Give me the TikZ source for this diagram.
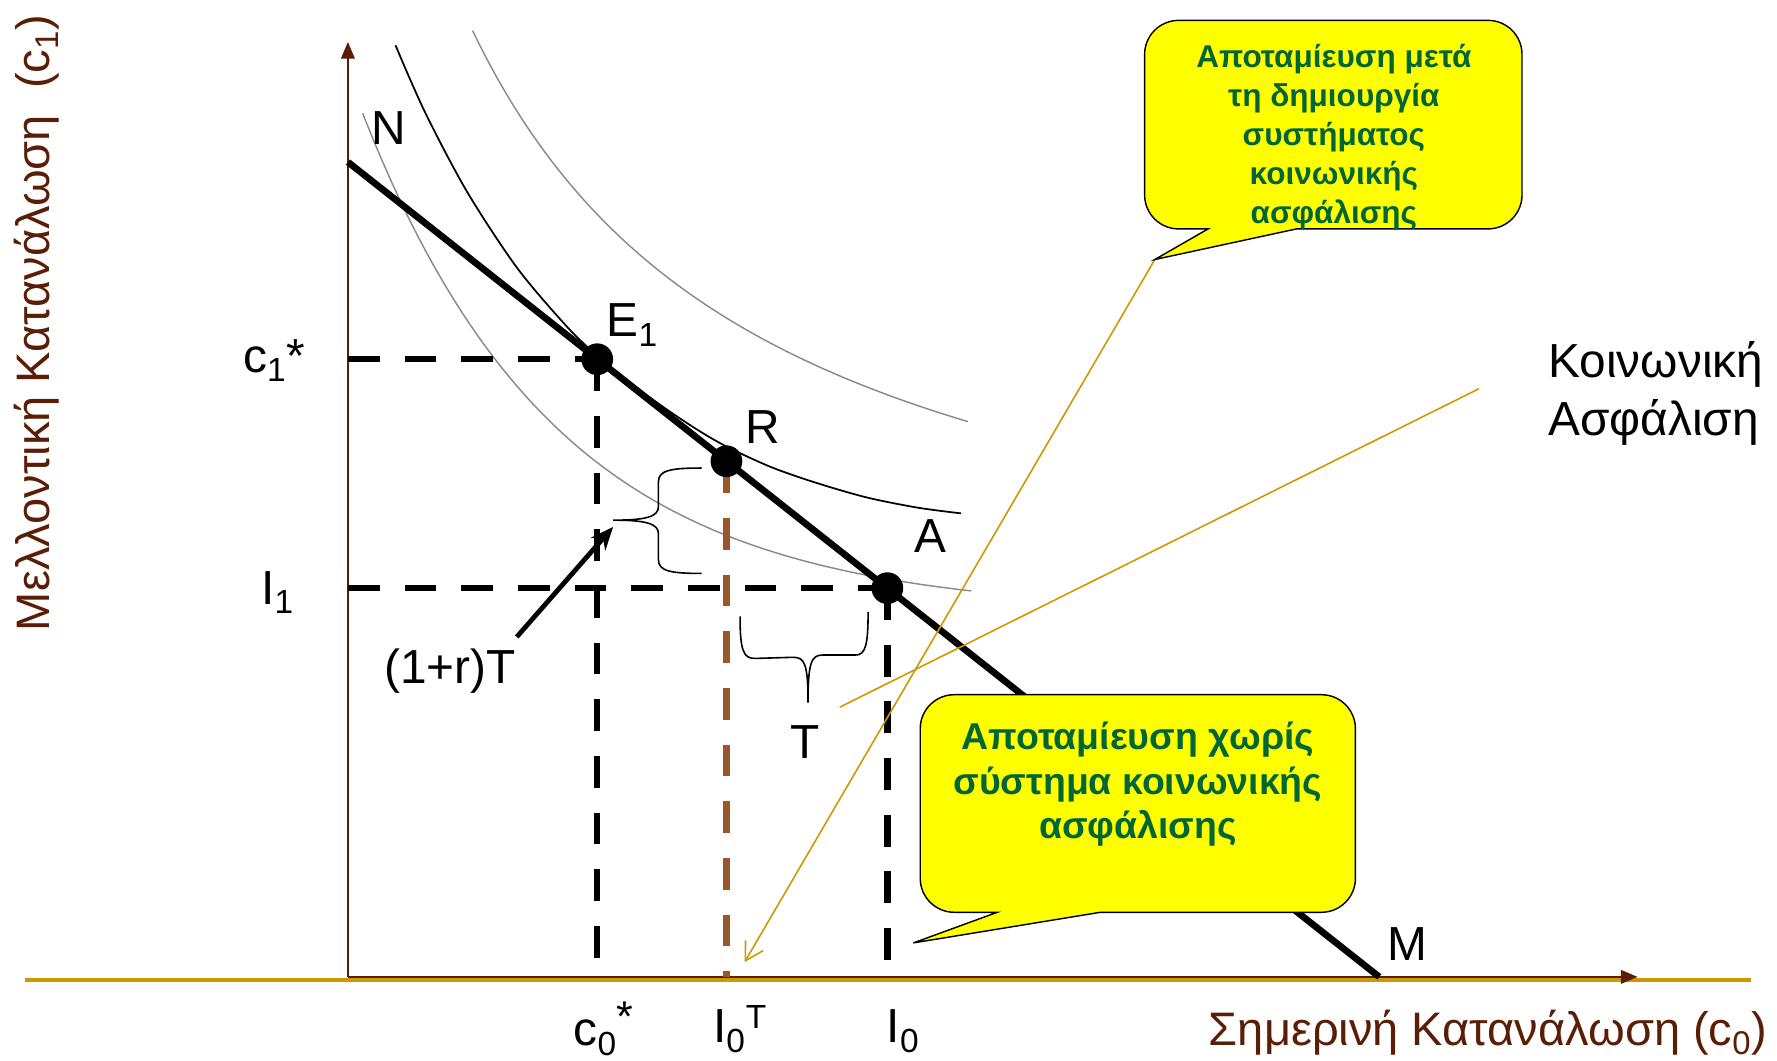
\documentclass[tikz,border=0pt]{standalone}
\usepackage{fontspec}
\setmainfont{Liberation Sans}
\usetikzlibrary{arrows.meta}
\definecolor{axbrown}{HTML}{5A1E06}
\definecolor{dashbrown}{HTML}{99582A}
\definecolor{gold}{HTML}{CC9900}
\definecolor{callgreen}{HTML}{006633}
\definecolor{callyellow}{HTML}{FFFF00}
\definecolor{curvegray}{HTML}{8A8A8A}

\newcommand{\bigstar}{\textsuperscript{\fontsize{27}{30}\selectfont *}}

\tikzset{
  lbl/.style={font=\fontsize{30}{36}\selectfont, inner sep=0pt},
  axlbl/.style={font=\fontsize{29.5}{36}\selectfont, text=axbrown, inner sep=0pt},
  eqdot/.style={circle, fill=black, inner sep=0pt, minimum size=7mm},
  guide/.style={line width=4pt, dash pattern=on 7mm off 5.5mm},
  icurve/.style={line width=0.9pt, curvegray},
  callout/.style={draw=black, line width=0.9pt, fill=callyellow},
  calltext/.style={text=callgreen, align=center, inner sep=0pt},
  brace/.style={line width=1pt},
}

\begin{document}
\begin{tikzpicture}[x=0.25mm,y=0.25mm]
\useasboundingbox (0,0) rectangle (1568,936);
% points
\coordinate (O) at (307,74);
\coordinate (ytop) at (307,899);
\coordinate (xend) at (1445,74);
\coordinate (gl) at (22,71.5);
\coordinate (gr) at (1545,71.5);
\coordinate (N) at (307,793);
\coordinate (M) at (1217,74);
\coordinate (E1) at (527,619);
\coordinate (R) at (641,529);
\coordinate (A) at (783,417);

% axes
\draw[gold, line width=2.6pt] (gl) -- (gr);
\draw[axbrown, line width=1.3pt, -{Triangle[length=3.7mm,width=3mm]}] (O) -- (ytop);
\draw[axbrown, line width=1.3pt, -{Triangle[length=3.7mm,width=3mm]}] (O) -- (xend);

% indifference curves
\draw[icurve] plot[domain=320:857, samples=80, smooth] (\x, {395+441*exp(-0.0058*(\x-320))});
\draw[line width=1.1pt] plot[smooth] coordinates {(349,896) (375,837) (412,767) (456,700) (500,648)
  (527,622) (555,599) (585,577) (615,557) (641,542) (680,524) (720,510) (765,497) (810,488) (848,483)};
\draw[icurve] plot[domain=417:854, samples=80, smooth] (\x, {353.2+1483.9/((\x-150)/100)});

% guides
\draw[guide] (E1 -| O) -- (E1);
\draw[guide] (E1) -- (E1 |- O);
\draw[guide] (A -| O) -- (A);
\draw[guide] (A) -- (A |- O);
\draw[guide, dashbrown] (R) -- (R |- O);

% budget line
\draw[line width=4.2pt] (N) -- (M);

% braces
\draw[brace] (619,523) .. controls (592,523) and (581,521) .. (581,511) -- (581,489)
  .. controls (581,480) and (570,477) .. (541,477)
  .. controls (570,477) and (581,474) .. (581,465) -- (581,442)
  .. controls (581,432) and (592,430) .. (619,430);
\draw[brace] (653,392) .. controls (653,362) and (656,355) .. (666,355) -- (700,356)
  .. controls (710,356) and (713,350) .. (713,316)
  .. controls (713,352) and (716,358) .. (726,358) -- (755,358)
  .. controls (764,358) and (766,368) .. (766,396);

% (1+r)T arrow
\coordinate (rtfrom) at (456,374);
\coordinate (rtto) at (541,471);
\draw[line width=3pt, -{Stealth[length=5mm,width=4.2mm]}] (rtfrom) -- (rtto);

% social security lines
\coordinate (tipA) at (1019,707);
\coordinate (arrend) at (657,87);
\coordinate (ssA) at (1305,593);
\coordinate (ssB) at (741,312);
\draw[gold, line width=1pt, -{Straight Barb[length=3.9mm,width=4.5mm]}] (tipA) -- (arrend);
\draw[gold, line width=1pt] (ssA) -- (ssB);

% callouts
\draw[callout] (1066,734) -- (tipA) -- (1144,734) -- (1313,734)
  arc[start angle=-90,end angle=0,radius=30] -- (1343,888)
  arc[start angle=0,end angle=90,radius=30] -- (1040,918)
  arc[start angle=90,end angle=180,radius=30] -- (1010,764)
  arc[start angle=180,end angle=270,radius=30] -- cycle;
\node[calltext, font=\bfseries\fontsize{19.8}{24.5}\selectfont] (saveafter) at (1177,815)
  {Αποταμίευση μετά\\τη δημιουργία\\συστήματος\\κοινωνικής\\ασφάλισης};
\coordinate (tipB) at (806,104);
\draw[callout] (880,131) -- (tipB) -- (971,131) -- (1166,131)
  arc[start angle=-90,end angle=0,radius=30] -- (1196,293)
  arc[start angle=0,end angle=90,radius=30] -- (842,323)
  arc[start angle=90,end angle=180,radius=30] -- (812,161)
  arc[start angle=180,end angle=270,radius=30] -- cycle;
\node[calltext, font=\bfseries\fontsize{23.5}{28}\selectfont] (savebefore) at (1004,244)
  {Αποταμίευση χωρίς\\σύστημα κοινωνικής\\ασφάλισης};

% points
\node[eqdot] (E1dot) at (E1) {};
\node[eqdot] (Rdot) at (R) {};
\node[eqdot] (Adot) at (A) {};

% labels
\node[lbl] (Nlbl) at (343,823) {N};
\node[lbl] (Mlbl) at (1242,103) {M};
\node[lbl] (E1lbl) at (558,649) {E\textsubscript{1}};
\node[lbl] (Rlbl) at (673,559) {R};
\node[lbl] (Albl) at (821,463) {A};
\node[lbl] (Tlbl) at (710,281) {T};
\node[lbl] (rtlbl) at (397,344) {(1+r)T};
\node[lbl] (cstar) at (242,618) {c\textsubscript{1}*};
\node[lbl] (Ione) at (245,413) {I\textsubscript{1}};
\node[lbl] (czstar) at (533,28) {c\textsubscript{0}\bigstar};
\node[lbl] (IzT) at (653,28) {I\textsubscript{0}\textsuperscript{T}};
\node[lbl] (Izero) at (797,26) {I\textsubscript{0}};
\node[lbl, align=left, anchor=west, font=\fontsize{30}{36.3}\selectfont] (social) at (1366,589)
  {Κοινωνική\\Ασφάλιση};
\node[axlbl, rotate=90] (ylab) at (32,651) {Μελλοντική Κατανάλωση~~(c\textsubscript{1})};
\node[axlbl] (xlab) at (1313,25) {Σημερινή Κατανάλωση (c\textsubscript{0})};
\end{tikzpicture}
\end{document}
